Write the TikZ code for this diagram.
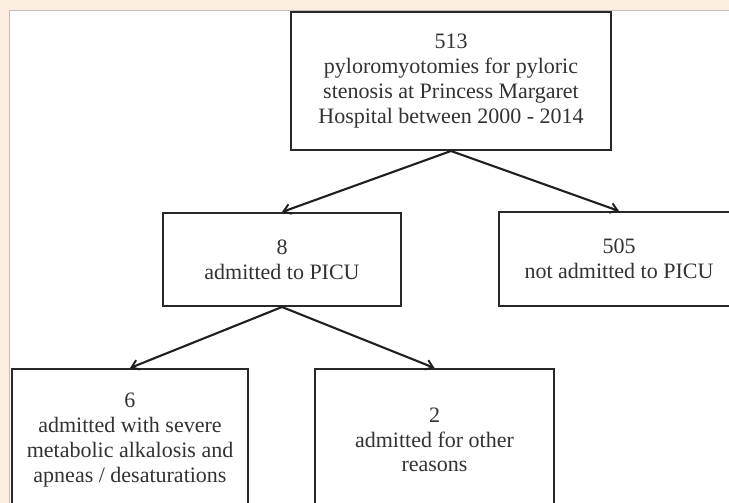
\documentclass[tikz,border=0pt]{standalone}
\usepackage{fontspec}
\setmainfont{Liberation Serif}
\usepackage{xcolor}
\usetikzlibrary{arrows.meta}
\definecolor{pagebg}{RGB}{252,237,225}
\definecolor{panelline}{RGB}{196,190,184}
\definecolor{boxline}{RGB}{40,40,40}
\definecolor{boxtext}{RGB}{50,50,50}

\begin{document}
\begin{tikzpicture}[x=1pt, y=-1pt, >={Straight Barb[length=7pt, width=10pt, line width=1.9pt]},
  every node/.style={font=\fontsize{22}{24.8}\selectfont, text=boxtext},
  flowbox/.style={draw=boxline, line width=2pt, fill=white, align=center, inner sep=0pt},
  flowarrow/.style={->, draw=black!88, line width=2.1pt}]
  \clip (0,0) rectangle (729,503);
  \fill[pagebg] (0,0) rectangle (729,503);
  \draw[panelline, line width=1pt, fill=white] (9.5,10.5) rectangle (745,520);
  \node[flowbox, minimum width=320pt, minimum height=138pt] (total) at (451,81) {513\\pyloromyotomies for pyloric\\stenosis at Princess Margaret\\Hospital between 2000 - 2014};
  \node[flowbox, minimum width=238pt, minimum height=93pt] (picu) at (282,259.5) {8\\admitted to PICU};
  \node[flowbox, minimum width=240pt, minimum height=94pt] (nopicu) at (619,259) {505\\not admitted to PICU};
  \node[flowbox, minimum width=236pt, minimum height=142pt] (severe) at (130,440) {6\\admitted with severe\\metabolic alkalosis and\\apneas / desaturations};
  \node[flowbox, minimum width=239pt, minimum height=142pt] (other) at (434.5,440) {2\\admitted for other\\reasons};
  \draw[flowarrow] (total.south) -- (picu.north);
  \draw[flowarrow] (total.south) -- (nopicu.north);
  \draw[flowarrow] (picu.south) -- (severe.north);
  \draw[flowarrow] (picu.south) -- (other.north);
\end{tikzpicture}
\end{document}
